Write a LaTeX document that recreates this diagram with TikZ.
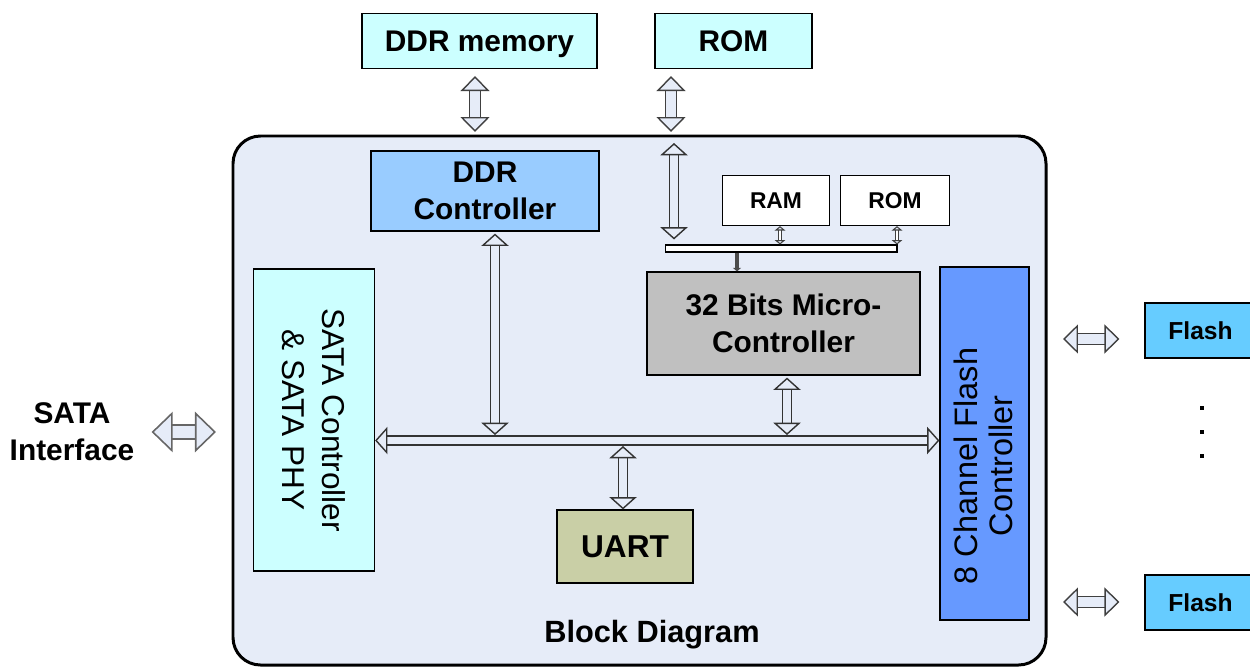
\documentclass[tikz,border=0pt]{standalone}
\usepackage{fontspec}
\setmainfont{Liberation Sans}
\usetikzlibrary{arrows.meta}
\definecolor{chipbg}{HTML}{E6ECF8}
\definecolor{memcyan}{HTML}{CCFFFF}
\definecolor{ddrblue}{HTML}{99CCFF}
\definecolor{mcugray}{HTML}{C0C0C0}
\definecolor{flashblue}{HTML}{6699FF}
\definecolor{flashcyan}{HTML}{66CCFF}
\definecolor{uartolive}{HTML}{C9CFA6}
\newcommand{\bigfont}{\bfseries\fontsize{17}{21}\selectfont}
\tikzset{
  box/.style={draw=black, line width=0.7pt, align=center, inner sep=0pt, font=\bigfont},
  smallbox/.style={box, fill=white, minimum height=1cm, font=\bfseries\fontsize{13}{15}\selectfont},
  flashbox/.style={box, fill=flashcyan, minimum width=2.22cm, minimum height=1.1cm, font=\bfseries\fontsize{14}{16}\selectfont},
  vtext/.style={align=center, inner sep=0pt, font=\fontsize{18.5}{20}\selectfont},
  txt/.style={align=center, inner sep=0pt, font=\bigfont},
  chip/.style={draw=black, line width=1.7pt, fill=chipbg, rounded corners=0.55cm},
  bus/.style={draw=black!80, line width=0.8pt, double=chipbg, double distance=4.4pt, <->,
    >={Triangle[open, line width=0.8pt, fill=chipbg, length=7pt, width=15.5pt]}},
  extbus/.style={draw=black!75, line width=0.8pt, double=chipbg, double distance=5.6pt, <->,
    >={Triangle[open, line width=0.8pt, fill=chipbg, length=8.5pt, width=16.5pt]}},
  sidebus/.style={draw=black!60, line width=0.9pt, double=chipbg, double distance=7pt, <->,
    >={Triangle[open, line width=0.9pt, fill=chipbg, length=12pt, width=23pt]}},
  tinybus/.style={draw=black!75, line width=0.7pt, double=white, double distance=1.4pt, <->,
    >={Triangle[open, line width=0.6pt, length=2.5pt, width=6pt]}},
  stem/.style={draw=black!70, line width=2.4pt, -{Triangle[length=2pt, width=4.5pt]}},
}

\begin{document}
\begin{tikzpicture}[x=0.02cm, y=-0.02cm]
\useasboundingbox (0,0) rectangle (1250,666);

% chip outline
\draw[chip] (233,136) rectangle (1046,665);

% memories outside the chip
\node[box, fill=memcyan, minimum width=4.7cm, minimum height=1.1cm, text depth=0pt] (ddrmem) at (479.5,41) {DDR memory};
\node[box, fill=memcyan, minimum width=3.14cm, minimum height=1.1cm] (romext) at (733.5,41) {ROM};

% blocks inside the chip
\node[box, fill=ddrblue, minimum width=4.56cm, minimum height=1.6cm] (ddrc) at (485,191) {DDR\\Controller};
\node[smallbox, minimum width=2.14cm] (ram) at (776,200.5) {RAM};
\node[smallbox, minimum width=2.18cm] (romint) at (895,200.5) {ROM};
\node[draw=black, line width=0.6pt, fill=white, minimum width=4.64cm, minimum height=0.14cm, inner sep=0pt] (lbus) at (781,248.5) {};
\node[box, fill=mcugray, minimum width=5.46cm, minimum height=2.06cm] (mcu) at (783.5,323.5) {32 Bits Micro-\\Controller};
\node[box, fill=memcyan, rotate=-90, minimum width=6.04cm, minimum height=2.42cm, font=\fontsize{18}{22.5}\selectfont] (sata) at (314,420) {SATA Controller\\\& SATA PHY};
\node[box, fill=flashblue, rotate=90, minimum width=7.06cm, minimum height=1.78cm] (fctrl) at (984.5,443.5) {};
\node[vtext, rotate=90] (fctrltxt) at (983,466) {8 Channel Flash\\Controller};
\node[box, fill=uartolive, minimum width=2.72cm, minimum height=1.46cm, font=\bfseries\fontsize{18}{21}\selectfont] (uart) at (625,546.5) {UART};
\node[txt, font=\bfseries\fontsize{17.5}{21}\selectfont] (title) at (652,635) {Block Diagram};

% outside the chip
\node[txt] (sataif) at (72,432) {SATA\\Interface};
\node[flashbox] (flash1) at (1200.5,330.5) {Flash};
\node[flashbox] (flash2) at (1200.5,602.5) {Flash};
\foreach \y in {408,432,456}
  \fill (1200,\y) ++(0,-2) rectangle ++(4,4);

% free ends and tap points
\coordinate (ddrpin) at (475,132);
\coordinate (rompin) at (671,132);
\coordinate (romin) at (674,143);
\coordinate (ramtap) at (780,0);
\coordinate (romtap) at (897,0);
\coordinate (stemtap) at (737,0);
\coordinate (mainbus) at (650,440.5);
\coordinate (ddrtap) at (495,435);
\coordinate (mcutap) at (787,435);
\coordinate (uarttap) at (623,446);
\coordinate (sataport) at (216,432);
\coordinate (fport1) at (1063,339);
\coordinate (fport2) at (1063,602);

% buses
\draw[extbus, shorten <=0.14cm] (ddrmem.south -| ddrpin) -- (ddrpin);
\draw[extbus, shorten <=0.14cm] (romext.south -| rompin) -- (rompin);
\draw[bus, shorten >=0.1cm] (romin) -- (lbus.north -| romin);
\draw[tinybus] (ram.south -| ramtap) -- (lbus.north -| ramtap);
\draw[tinybus] (romint.south -| romtap) -- (lbus.north -| romtap);
\draw[stem] (lbus.south -| stemtap) -- (mcu.north -| stemtap);
\draw[bus] (sata.north |- mainbus) -- (fctrl.north |- mainbus);
\draw[bus, shorten <=0.04cm] (ddrc.south -| ddrtap) -- (ddrtap);
\draw[bus, shorten <=0.04cm] (mcu.south -| mcutap) -- (mcutap);
\draw[bus] (uarttap) -- (uart.north -| uarttap);
\draw[sidebus, shorten <=0.34cm] (sataif.east |- sataport) -- (sataport);
\draw[extbus, shorten <=0.5cm] (flash1.west |- fport1) -- (fport1);
\draw[extbus, shorten <=0.5cm] (flash2.west |- fport2) -- (fport2);
\end{tikzpicture}
\end{document}
